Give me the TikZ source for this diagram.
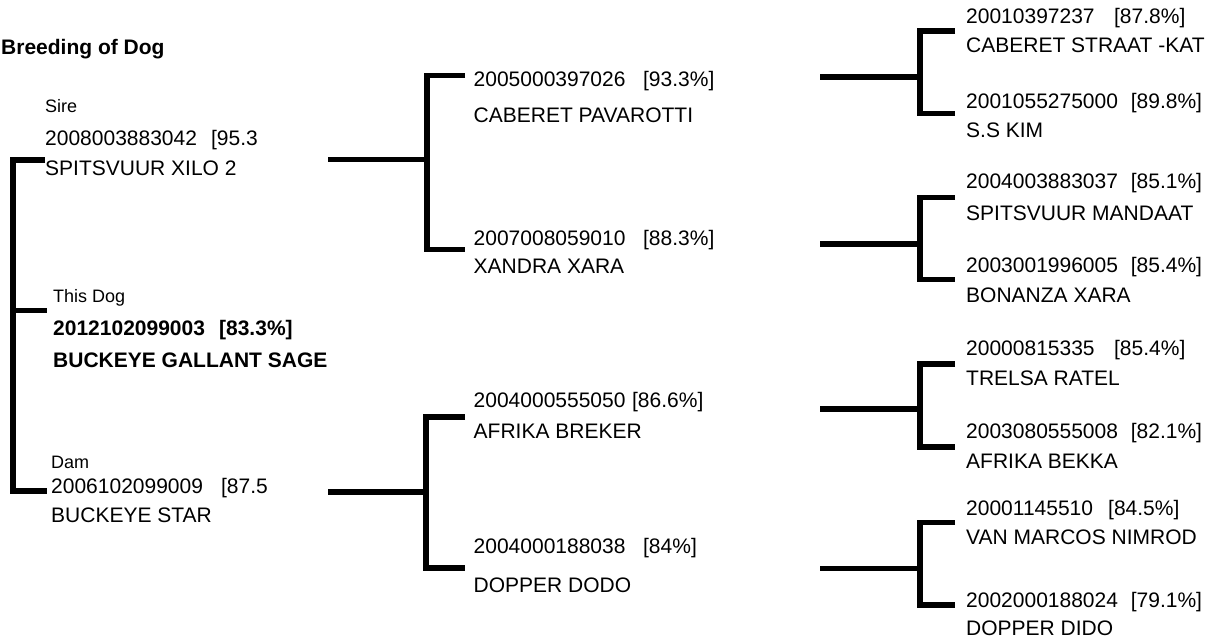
\documentclass[tikz,border=0pt]{standalone}
\usepackage{fontspec}
\setmainfont{Liberation Sans}
\begin{document}
\begin{tikzpicture}[x=1pt,y=-1pt,
  txt/.style={anchor=base west, inner sep=0pt, font=\fontsize{21}{25}\selectfont},
  btxt/.style={anchor=base west, inner sep=0pt, font=\fontsize{21}{25}\selectfont\bfseries},
  lbl/.style={anchor=base west, inner sep=0pt, font=\fontsize{18}{22}\selectfont},
  link/.style={line width=5.5pt, line cap=butt, line join=miter, draw=black}]
\useasboundingbox (0,0) rectangle (1221,642);

% title
\node[btxt] (title) at (1,55) {Breeding of Dog};

% column 1
\node[lbl] (sirelbl) at (45,112) {Sire};
\node[txt] (sireid) at (45,145) {\makebox[166pt][l]{2008003883042}[95.3};
\node[txt] (sirename) at (45,175) {SPITSVUUR XILO 2};
\node[lbl] (doglbl) at (53,302) {This Dog};
\node[btxt] (dogid) at (53,335) {\makebox[166pt][l]{2012102099003}[83.3\%]};
\node[btxt] (dogname) at (53,367) {BUCKEYE GALLANT SAGE};
\node[lbl] (damlbl) at (51,468) {Dam};
\node[txt] (damid) at (51,493) {\makebox[170pt][l]{2006102099009}[87.5};
\node[txt] (damname) at (51,522) {BUCKEYE STAR};

% column 2
\node[txt] (ssid) at (473.5,86) {\makebox[169.5pt][l]{2005000397026}[93.3\%]};
\node[txt] (ssname) at (473.5,122) {CABERET PAVAROTTI};
\node[txt] (sdid) at (473.5,245) {\makebox[169.5pt][l]{2007008059010}[88.3\%]};
\node[txt] (sdname) at (473.5,273.5) {XANDRA XARA};
\node[txt] (dsid) at (473.5,407) {\makebox[158.5pt][l]{2004000555050}[86.6\%]};
\node[txt] (dsname) at (473.5,438.5) {AFRIKA BREKER};
\node[txt] (ddid) at (473.5,553.5) {\makebox[169.5pt][l]{2004000188038}[84\%]};
\node[txt] (ddname) at (473.5,592) {DOPPER DODO};

% column 3
\node[txt] (sssid) at (966,24) {\makebox[148pt][l]{20010397237}[87.8\%]};
\node[txt] (sssname) at (966,53) {CABERET STRAAT -KAT};
\node[txt] (ssdid) at (966,108.5) {\makebox[164.7pt][l]{2001055275000}[89.8\%]};
\node[txt] (ssdname) at (966,137) {S.S KIM};
\node[txt] (sdsid) at (966,188.5) {\makebox[164.7pt][l]{2004003883037}[85.1\%]};
\node[txt] (sdsname) at (966,220) {SPITSVUUR MANDAAT};
\node[txt] (sddid) at (966,272) {\makebox[164.7pt][l]{2003001996005}[85.4\%]};
\node[txt] (sddname) at (966,302) {BONANZA XARA};
\node[txt] (dssid) at (966,355) {\makebox[148pt][l]{20000815335}[85.4\%]};
\node[txt] (dssname) at (966,385) {TRELSA RATEL};
\node[txt] (dsdid) at (966,438.5) {\makebox[164.7pt][l]{2003080555008}[82.1\%]};
\node[txt] (dsdname) at (966,468.5) {AFRIKA BEKKA};
\node[txt] (ddsid) at (966,515) {\makebox[142pt][l]{20001145510}[84.5\%]};
\node[txt] (ddsname) at (966,544) {VAN MARCOS NIMROD};
\node[txt] (dddid) at (966,607) {\makebox[164.7pt][l]{2002000188024}[79.1\%]};
\node[txt] (dddname) at (966,635) {DOPPER DIDO};

% connector coordinates
\coordinate (c1a) at (45,160);
\coordinate (c1v) at (13,310.5);
\coordinate (c1b) at (47,310.5);
\coordinate (c1c) at (47,491);

\coordinate (sfrom) at (328,159.5);
\coordinate (sj) at (427,159.5);
\coordinate (sja) at (465,75.5);
\coordinate (sjb) at (465,249.5);

\coordinate (dfrom) at (328,492);
\coordinate (dj) at (426,492);
\coordinate (dja) at (465,417);
\coordinate (djb) at (465,568);

\coordinate (k1from) at (820,77);
\coordinate (k1) at (920,77);
\coordinate (k1a) at (955,31);
\coordinate (k1b) at (955,113.5);

\coordinate (k2from) at (820,244);
\coordinate (k2) at (920,244);
\coordinate (k2a) at (955,197.5);
\coordinate (k2b) at (955,279.5);

\coordinate (k3from) at (820,409);
\coordinate (k3) at (920,409);
\coordinate (k3a) at (955,364);
\coordinate (k3b) at (955,447);

\coordinate (k4from) at (820,568.5);
\coordinate (k4) at (920,568.5);
\coordinate (k4a) at (955,522.5);
\coordinate (k4b) at (955,605);

% connectors
\draw[link] (c1a) -| (c1v) |- (c1c);
\draw[link] (c1v) -- (c1b);

\draw[link] (sja) -| (sj) |- (sjb);
\draw[link] (sfrom) -- (sj);
\draw[link] (dja) -| (dj) |- (djb);
\draw[link] (dfrom) -- (dj);

\draw[link] (k1a) -| (k1) |- (k1b);
\draw[link] (k1from) -- (k1);
\draw[link] (k2a) -| (k2) |- (k2b);
\draw[link] (k2from) -- (k2);
\draw[link] (k3a) -| (k3) |- (k3b);
\draw[link] (k3from) -- (k3);
\draw[link] (k4a) -| (k4) |- (k4b);
\draw[link] (k4from) -- (k4);
\end{tikzpicture}
\end{document}
